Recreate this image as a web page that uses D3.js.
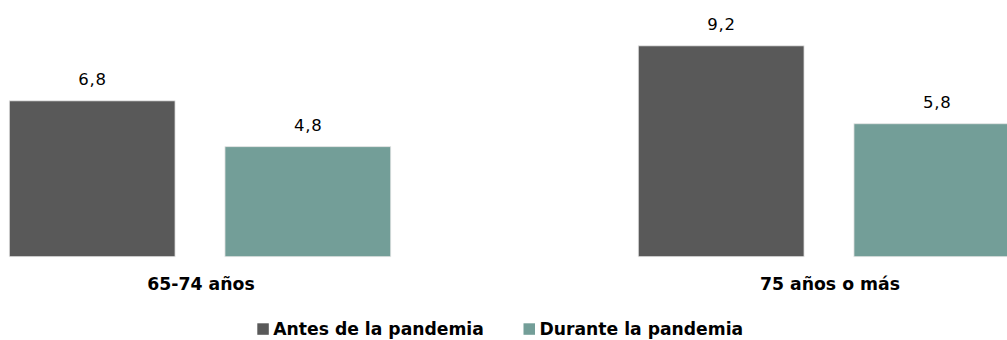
<!DOCTYPE html>
<html>
<head>
<meta charset="utf-8">
<script src="https://cdn.jsdelivr.net/npm/d3@7"></script>
<style>
  html, body { margin: 0; padding: 0; background: #ffffff; }
  svg { display: block; }
  text { font-family: "DejaVu Sans", "Liberation Sans", sans-serif; }
</style>
</head>
<body>
<svg id="chart" width="1007" height="340"></svg>
<script>
// Age groups on the horizontal axis
const groups = ["65-74 años", "75 años o más"];
// Series
const series = ["Antes de la pandemia", "Durante la pandemia"];
const antes = [6.8, 9.2];
const durante = [4.8, 5.8];
const colors = ["#595959", "#739e98"];

const width = 1007, height = 340;
const svg = d3.select("#chart");

const rows = groups.map((g, i) => ({ group: g, values: [antes[i], durante[i]] }));

// Outer band: one slot per age group (the right slot runs past the page edge)
const x0 = d3.scaleBand()
  .domain(groups)
  .range([9.3, 1019.7])
  .paddingInner(0.3936)
  .paddingOuter(0);

// Inner band: the two series within a group
const x1 = d3.scaleBand()
  .domain(series)
  .range([0, x0.bandwidth()])
  .paddingInner(0.2315)
  .paddingOuter(0);

const y = d3.scaleLinear()
  .domain([0, 10])
  .range([256.7, 256.7 - 229.2]);

const fmt = v => d3.format(".1f")(v).replace(".", ",");

const g = svg.append("g");

const grp = g.selectAll("g.group")
  .data(rows)
  .join("g")
  .attr("class", "group")
  .attr("transform", d => `translate(${x0(d.group)},0)`);

grp.selectAll("rect")
  .data(d => d.values.map((v, i) => ({ s: series[i], v, c: colors[i] })))
  .join("rect")
  .attr("x", d => x1(d.s))
  .attr("y", d => y(d.v))
  .attr("width", x1.bandwidth())
  .attr("height", d => y(0) - y(d.v))
  .attr("fill", d => d.c)
  .attr("stroke", "#e4e4e4")
  .attr("stroke-width", 0.8);

grp.selectAll("text.value")
  .data(d => d.values.map((v, i) => ({ s: series[i], v })))
  .join("text")
  .attr("class", "value")
  .attr("x", d => x1(d.s) + x1.bandwidth() / 2 + 0.4)
  .attr("y", d => y(d.v) - 16)
  .attr("text-anchor", "middle")
  .attr("font-size", 16.5)
  .attr("letter-spacing", 0.8)
  .attr("fill", "#000")
  .text(d => fmt(d.v));

// Category labels below the bars
g.selectAll("text.cat")
  .data(groups)
  .join("text")
  .attr("class", "cat")
  .attr("x", d => x0(d) + x0.bandwidth() / 2 + 1)
  .attr("y", 289.5)
  .attr("text-anchor", "middle")
  .attr("font-size", 17.3)
  .attr("font-weight", "bold")
  .attr("fill", "#000")
  .text(d => d);

// Legend
const legendItems = [
  { name: series[0], color: colors[0], x: 257.3 },
  { name: series[1], color: colors[1], x: 523.5 }
];
const lg = svg.append("g").attr("class", "legend");
const li = lg.selectAll("g")
  .data(legendItems)
  .join("g")
  .attr("transform", d => `translate(${d.x},0)`);
li.append("rect")
  .attr("x", 0).attr("y", 323.3)
  .attr("width", 11.5).attr("height", 11.5)
  .attr("fill", d => d.color);
li.append("text")
  .attr("x", 16)
  .attr("y", 335)
  .attr("font-size", 17.2)
  .attr("font-weight", "bold")
  .attr("fill", "#000")
  .text(d => d.name);
</script>
</body>
</html>
